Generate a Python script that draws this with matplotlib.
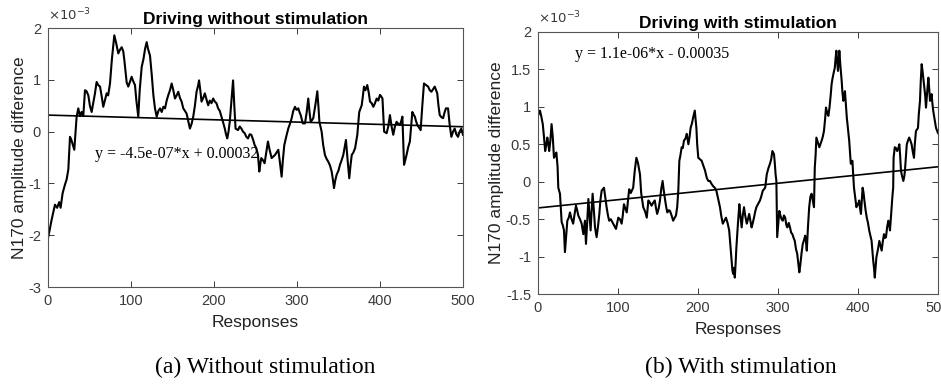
# -*- coding: utf-8 -*-
import matplotlib
matplotlib.use("Agg")
import matplotlib.pyplot as plt

# amplitudes are in units of 1e-3 (the axes carry a x10^-3 multiplier)
SCALE_LABEL = r"$\times10^{-3}$"

# (a) driving without stimulation
resp_a = [0, 2, 4.4, 8.4, 11, 13.5, 15.2, 17.6, 20.5, 22.5, 24.5, 26.5, 28, 29.3, 31.7, 34.5, 36.5,
          38.5, 40.5, 42.5, 44.6, 46.5, 48.6, 50.5, 52.6, 54.5, 56.6, 58.6, 60.5, 62.7, 64.5, 66.6,
          68.5, 70.7, 72.5, 74.7, 77, 79.9, 82, 84.7, 86.7, 88.8, 90.7, 92, 94.8, 96.7, 98.5, 100.8,
          102.5, 104.8, 106.5, 108.8, 110.5, 112.9, 115, 117, 118.9, 120.5, 122.9, 125, 127, 128.9,
          131, 133, 135, 137, 139, 141, 143, 145, 147, 149, 151, 153, 155, 157, 159, 161, 163, 165,
          167, 169, 171, 173, 175, 177, 179, 181, 182, 183.5, 185, 187, 189, 191, 193, 195, 197, 199,
          201, 203, 205, 207, 209, 211, 213, 214.5, 216, 217.5, 219, 221, 223, 224.5, 226, 229, 231,
          233, 235, 237, 239, 241, 243, 245, 247, 249, 251, 253, 254.6, 256, 257, 259, 261, 263, 265,
          267, 269.5, 271.5, 273.5, 275.5, 277.5, 279.5, 281.5, 283, 284.7, 287, 289.5, 291.5, 293.6,
          295.5, 297.6, 299.5, 301.6, 303, 304.5, 307, 309.6, 311.5, 313.6, 315, 316.5, 318, 319.6,
          322, 324.5, 326, 327, 329.7, 331.5, 333.7, 335.5, 337.7, 339.7, 341.8, 343.5, 344.6, 346,
          347.8, 350, 351.8, 353.8, 355.8, 357.5, 359, 361, 363, 364.5, 366, 368, 370, 372.7, 375,
          378, 379.5, 380.7, 382.5, 384.7, 386.5, 388, 390, 392, 394, 396, 398, 400, 401.5, 403, 405,
          408, 410, 412, 414, 416, 418, 420, 422, 424, 425.5, 427, 429, 430.5, 432, 434, 436, 437.5,
          439, 440.5, 442, 443.5, 445, 447, 449, 451, 453, 455.5, 458, 460, 462, 464, 466, 469, 470.5,
          472, 474, 476, 478, 479.5, 482, 483, 484, 486, 488, 490, 492, 494, 496, 498, 500]
amp_a = [-2.05, -1.90, -1.70, -1.41, -1.47, -1.36, -1.47, -1.19, -1.02, -0.92, -0.73, -0.10, -0.15,
         -0.22, -0.35, 0.29, 0.45, 0.30, 0.38, 0.30, 0.80, 0.78, 0.70, 0.50, 0.38, 0.55, 0.74, 0.96,
         0.90, 0.87, 0.70, 0.48, 0.60, 0.74, 0.70, 0.93, 1.40, 1.86, 1.72, 1.51, 1.58, 1.63, 1.55, 1.38,
         0.95, 0.87, 0.95, 1.06, 0.98, 0.90, 0.60, 0.29, 0.80, 1.25, 1.40, 1.60, 1.73, 1.60, 1.47, 1.10,
         0.70, 0.45, 0.29, 0.40, 0.45, 0.38, 0.48, 0.45, 0.60, 0.71, 0.80, 0.93, 0.80, 0.64, 0.70, 0.77,
         0.65, 0.58, 0.45, 0.40, 0.35, 0.20, 0.06, 0.15, 0.29, 0.50, 0.77, 0.90, 0.99, 0.80, 0.58, 0.65,
         0.74, 0.62, 0.51, 0.60, 0.55, 0.64, 0.58, 0.55, 0.45, 0.40, 0.29, 0.18, 0.06, -0.05, -0.13,
         0.0, 0.19, 0.60, 0.99, 0.50, 0.06, 0.03, 0.10, 0.06, 0.00, -0.03, -0.10, -0.13, -0.05, -0.06,
         -0.15, -0.26, -0.32, -0.45, -0.77, -0.60, -0.51, -0.55, -0.61, -0.40, -0.19, -0.35, -0.51,
         -0.48, -0.45, -0.40, -0.35, -0.60, -0.87, -0.55, -0.26, -0.10, 0.06, 0.15, 0.26, 0.40, 0.48,
         0.42, 0.45, 0.38, 0.32, 0.16, 0.16, 0.35, 0.64, 0.40, 0.19, 0.22, 0.26, 0.50, 0.78, 0.45, 0.19,
         0.0, -0.25, -0.45, -0.52, -0.58, -0.65, -0.77, -0.95, -1.09, -0.95, -0.83, -0.75, -0.64, -0.55,
         -0.45, -0.30, -0.16, -0.55, -0.90, -0.65, -0.45, -0.40, -0.32, -0.06, 0.38, 0.51, 0.70, 0.87,
         0.80, 0.90, 0.75, 0.58, 0.55, 0.48, 0.55, 0.64, 0.60, 0.71, 0.68, 0.64, 0.0, -0.03, 0.10, 0.32,
         0.10, -0.06, 0.10, 0.19, 0.15, 0.13, 0.20, 0.29, -0.64, -0.55, -0.45, -0.30, -0.19, 0.10, 0.38,
         0.33, 0.29, 0.20, 0.13, 0.08, 0.03, 0.50, 0.93, 0.90, 0.87, 0.80, 0.77, 0.82, 0.87, 0.74, 0.50,
         0.32, 0.28, 0.26, 0.38, 0.45, 0.45, 0.30, 0.13, -0.10, 0.00, 0.06, -0.05, -0.10, 0.00, 0.06,
         -0.06]
slope_a, icpt_a = -4.5e-07, 0.00032

# (b) driving with stimulation
resp_b = [0, 2.5, 4, 6, 7.5, 9, 10.5, 11.7, 13, 14, 15.5, 17, 18.5, 20, 21.5, 23, 24.5, 25.4, 27.5,
          29.6, 31, 32.5, 33.7, 35, 36.7, 38.5, 40, 42, 44, 45.5, 47.5, 49, 50.4, 52.5, 54.6, 56.7,
          58.7, 60, 61.5, 63, 64.5, 65.8, 67, 68.3, 70, 71.3, 73.3, 75, 76.7, 78, 79.6, 82.5, 84,
          85.8, 87.5, 89, 91, 93, 95, 97.5, 99, 100.4, 102.5, 104.6, 106, 107.5, 109, 111, 112.5, 114,
          116, 119, 121, 123, 125, 127.5, 129, 131.6, 134, 136, 138, 140, 142, 144, 146, 147.5, 149,
          151, 152.5, 154, 155.8, 157, 159, 160.5, 161.7, 163.5, 165, 167, 169, 171, 172.5, 174,
          175.4, 176.7, 178, 179.6, 181, 182.5, 184.5, 186, 188, 189.5, 190.8, 192.5, 194, 196, 198,
          199, 200.4, 202.5, 204.6, 206.5, 208.8, 211, 213, 215, 217, 219, 221, 223, 225, 227.5, 229,
          231, 233, 235, 237, 239, 240.5, 242, 243, 244, 245, 246, 247, 248, 250, 251.7, 253, 254.6,
          256, 257.5, 259, 261, 262.5, 264, 265.5, 267, 268.5, 270, 271.5, 273, 275, 277.5, 279, 281,
          282.5, 284, 286, 288, 290, 291.5, 293, 295, 296, 297, 298, 299, 300.5, 301.7, 303, 304.5,
          306, 307.5, 309, 310.5, 311.7, 313.5, 315, 316.5, 318, 319.5, 321, 322.5, 324, 325.5, 326.7,
          328, 329.5, 331, 332.5, 334, 335, 336, 337.5, 339, 340.5, 342, 343.5, 345, 346, 347, 348,
          350, 351.7, 353, 354.6, 356, 357.5, 359, 360, 361.5, 363, 364.5, 366, 367, 368, 369.5, 371,
          372, 373, 374, 375, 376, 376.7, 378, 379.6, 380.5, 381.7, 382.7, 383.7, 385, 386, 387.5, 389,
          390, 391, 392, 393, 394, 395, 396, 397, 398, 400, 401.6, 402.5, 403.7, 404.8, 405.8, 407,
          408, 409.5, 411, 412.5, 414, 415.5, 417, 418, 419, 420, 421, 422, 423, 425, 426.7, 428,
          429.6, 431, 432.5, 434, 435, 436.5, 438, 439, 440, 441, 442, 443, 444, 444.5, 446, 447.5, 449,
          450.5, 451.7, 452.7, 453.7, 455, 456.7, 458, 458.7, 460, 461, 462.5, 464, 465.5, 467, 468.5,
          470, 471, 472.5, 474, 475, 476, 477.5, 478.5, 479.6, 481, 482.5, 484, 485, 486.5, 488, 489,
          490, 491, 492, 493, 494, 495.5, 497.5, 500]
amp_b = [0.88, 0.95, 0.88, 0.77, 0.60, 0.41, 0.50, 0.59, 0.50, 0.41, 0.55, 0.77, 0.60, 0.32, 0.35,
         0.39, 0.20, -0.08, -0.16, -0.54, -0.58, -0.65, -0.94, -0.75, -0.52, -0.48, -0.41, -0.50,
         -0.56, -0.45, -0.32, -0.38, -0.45, -0.50, -0.56, -0.70, -0.52, -0.83, -0.55, -0.23, -0.45,
         -0.65, -0.40, -0.16, -0.40, -0.61, -0.74, -0.60, -0.43, -0.25, -0.12, -0.08, -0.20, -0.34,
         -0.45, -0.52, -0.50, -0.54, -0.58, -0.63, -0.55, -0.48, -0.50, -0.56, -0.45, -0.30, -0.35,
         -0.41, -0.25, -0.10, -0.15, -0.08, 0.15, 0.32, 0.25, 0.10, -0.15, -0.34, -0.40, -0.48, -0.25,
         -0.28, -0.32, -0.28, -0.25, -0.35, -0.43, -0.35, -0.25, -0.10, 0.01, -0.10, -0.25, -0.35,
         -0.41, -0.38, -0.39, -0.45, -0.52, -0.48, -0.45, -0.34, -0.12, 0.28, 0.35, 0.46, 0.45, 0.55,
         0.58, 0.64, 0.50, 0.60, 0.72, 0.78, 0.86, 0.95, 0.72, 0.50, 0.32, 0.30, 0.28, 0.22, 0.15,
         0.05, 0.01, 0.01, -0.03, -0.06, -0.08, -0.12, -0.22, -0.34, -0.45, -0.56, -0.52, -0.48, -0.55,
         -0.65, -0.85, -1.05, -1.18, -1.23, -1.15, -1.28, -1.10, -0.88, -0.55, -0.30, -0.45, -0.61,
         -0.45, -0.34, -0.45, -0.56, -0.50, -0.43, -0.52, -0.61, -0.55, -0.48, -0.40, -0.34, -0.30,
         -0.25, -0.20, -0.12, -0.10, -0.08, 0.10, 0.18, 0.24, 0.30, 0.41, 0.37, 0.25, 0.10, 0.01,
         -0.74, -0.55, -0.39, -0.45, -0.50, -0.52, -0.45, -0.48, -0.58, -0.61, -0.55, -0.61, -0.68,
         -0.70, -0.75, -0.79, -0.90, -0.96, -1.10, -1.21, -1.10, -0.95, -0.83, -0.78, -0.72, -0.80,
         -0.92, -0.60, -0.34, -0.20, -0.16, -0.25, -0.34, 0.19, 0.35, 0.59, 0.52, 0.46, 0.50, 0.55,
         0.60, 0.68, 0.85, 0.99, 0.92, 0.88, 1.00, 1.17, 1.30, 1.37, 1.45, 1.52, 1.65, 1.75, 1.60,
         1.48, 1.62, 1.75, 1.55, 1.35, 1.20, 1.08, 1.15, 1.21, 1.00, 0.86, 0.70, 0.55, 0.40, 0.24,
         0.26, 0.28, 0.10, -0.08, -0.16, -0.25, -0.34, -0.30, -0.25, -0.35, -0.43, -0.25, -0.08,
         -0.15, -0.25, -0.38, -0.48, -0.55, -0.65, -0.72, -0.79, -0.92, -1.05, -1.15, -1.28, -1.15,
         -1.01, -0.90, -0.79, -0.85, -0.92, -0.80, -0.70, -0.75, -0.74, -0.60, -0.52, -0.58, -0.65,
         -0.50, -0.34, -0.20, -0.08, 0.32, 0.46, 0.45, 0.41, 0.45, 0.50, 0.35, 0.15, 0.08, 0.01, 0.08,
         0.15, 0.35, 0.50, 0.55, 0.59, 0.55, 0.50, 0.40, 0.32, 0.50, 0.68, 0.70, 0.72, 0.90, 1.08,
         1.35, 1.57, 1.45, 1.30, 1.15, 0.99, 1.20, 1.39, 1.25, 1.08, 1.12, 1.17, 1.05, 0.95, 0.85,
         0.72, 0.65]
slope_b, icpt_b = 1.1e-06, -0.00035

titles = ["Driving without stimulation", "Driving with stimulation"]
captions = ["(a) Without stimulation", "(b) With stimulation"]
fit_texts = ["y = -4.5e-07*x + 0.00032", "y = 1.1e-06*x - 0.00035"]
xticks = [0, 100, 200, 300, 400, 500]
yticks_a = [-3, -2, -1, 0, 1, 2]
yticks_b = [-1.5, -1, -0.5, 0, 0.5, 1, 1.5, 2]

plt.rcParams["axes.unicode_minus"] = False
plt.rcParams["font.family"] = ["Liberation Sans", "DejaVu Sans"]
GRAY = "#3a3a3a"


def style_axes(ax, yticks):
    ax.set_xlim(0, 500)
    ax.set_ylim(yticks[0], yticks[-1])
    ax.set_xticks(xticks)
    ax.set_yticks(yticks)
    ax.set_yticklabels(["%g" % t for t in yticks])
    ax.tick_params(direction="in", top=True, right=True, length=4, width=0.7,
                   colors=GRAY, labelsize=10.5, pad=5)
    for s in ax.spines.values():
        s.set_color("#555555")
        s.set_linewidth(0.8)
    ax.set_xlabel("Responses", fontsize=12.5, color="#222222", labelpad=5)
    ax.set_ylabel("N170 amplitude difference", fontsize=12.5, color="#222222", labelpad=1)
    ax.text(0, 1.02, SCALE_LABEL, transform=ax.transAxes, fontsize=9.5, color=GRAY,
            ha="left", va="bottom")


def fit_line(slope, icpt):
    # line in units of 1e-3, evaluated at the ends of the response axis
    return [0, 500], [(icpt + slope * 0) * 1e3, (icpt + slope * 500) * 1e3]


fig = plt.figure(figsize=(9.41, 3.90), dpi=100)
ax1 = fig.add_axes([0.051, 0.264, 0.441, 0.664])
ax2 = fig.add_axes([0.5717, 0.246, 0.4251, 0.672])

ax1.plot(resp_a, amp_a, color="black", lw=1.5)
fx, fy = fit_line(slope_a, icpt_a)
ax1.plot(fx, fy, color="black", lw=1.2)
style_axes(ax1, yticks_a)
ax1.set_title(titles[0], fontsize=12.5, fontweight="bold", pad=3)
ax1.text(56.6, -0.44, fit_texts[0], fontsize=11.5, family="Liberation Serif", va="center")

ax2.plot(resp_b, amp_b, color="black", lw=1.5)
fx, fy = fit_line(slope_b, icpt_b)
ax2.plot(fx, fy, color="black", lw=1.2)
style_axes(ax2, yticks_b)
ax2.set_title(titles[1], fontsize=12.5, fontweight="bold", pad=3)
ax2.text(46, 1.71, fit_texts[1], fontsize=11.5, family="Liberation Serif", va="center")

fig.text(0.282, 0.059, captions[0], fontsize=17, family="Liberation Serif", ha="center", va="center")
fig.text(0.787, 0.059, captions[1], fontsize=17, family="Liberation Serif", ha="center", va="center")

fig.savefig("out.png", dpi=100)
